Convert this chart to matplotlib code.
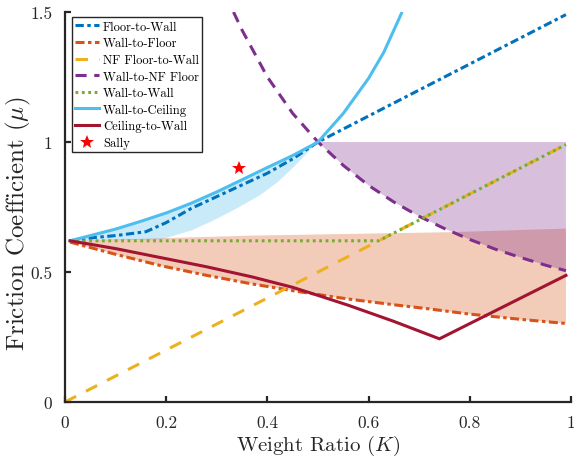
import matplotlib
matplotlib.use('Agg')
import matplotlib.pyplot as plt
import numpy as np

# values (K = weight ratio, mu = friction coefficient)
k_f2w = [0.01, 0.06, 0.10, 0.16, 0.20, 0.25, 0.30, 0.35, 0.40, 0.45, 0.50, 0.75, 0.99]
mu_f2w = [0.62, 0.633, 0.64, 0.655, 0.69, 0.745, 0.79, 0.835, 0.88, 0.935, 1.00, 1.25, 1.49]

k_w2f = [0.01, 0.10, 0.19, 0.28, 0.37, 0.46, 0.56, 0.65, 0.72, 0.80, 0.90, 0.99]
mu_w2f = [0.615, 0.568, 0.524, 0.487, 0.454, 0.425, 0.396, 0.374, 0.358, 0.338, 0.318, 0.302]

k_nf2w = [0.0, 0.99]
mu_nf2w = [0.0, 0.99]

k_w2nf = [0.333, 0.35, 0.40, 0.45, 0.50, 0.55, 0.60, 0.65, 0.70, 0.75, 0.80, 0.85, 0.90, 0.95, 0.99]
mu_w2nf = [1.50, 1.43, 1.25, 1.11, 1.00, 0.91, 0.833, 0.769, 0.714, 0.667, 0.625, 0.588, 0.556, 0.526, 0.505]

k_w2w = [0.01, 0.62, 0.99]
mu_w2w = [0.62, 0.62, 0.99]

k_w2c = [0.01, 0.05, 0.10, 0.15, 0.20, 0.25, 0.30, 0.35, 0.40, 0.45, 0.50, 0.55, 0.60, 0.63, 0.665]
mu_w2c = [0.62, 0.64, 0.665, 0.695, 0.727, 0.765, 0.808, 0.855, 0.902, 0.948, 1.00, 1.11, 1.245, 1.345, 1.495]

k_c2w = [0.01, 0.10, 0.19, 0.28, 0.37, 0.45, 0.50, 0.56, 0.65, 0.74, 0.87, 0.99]
mu_c2w = [0.62, 0.59, 0.555, 0.52, 0.481, 0.441, 0.41, 0.372, 0.31, 0.243, 0.37, 0.487]

sally_k = [0.344]
sally_mu = [0.90]

# shaded regions
k_blue_low = [0.01, 0.19, 0.25, 0.29, 0.34, 0.385, 0.42, 0.45, 0.50]
mu_blue_low = [0.62, 0.625, 0.66, 0.695, 0.745, 0.795, 0.845, 0.90, 1.00]
k_orange_top = [0.01, 0.37, 0.76, 0.99]
mu_orange_top = [0.62, 0.64, 0.653, 0.667]
purple_top = 1.0

c_blue = '#0072BD'
c_orange = '#D95319'
c_yellow = '#EDB120'
c_purple = '#7E2F8E'
c_green = '#77AC30'
c_cyan = '#4DBEEE'
c_red = '#A2142F'
c_axis = '#262626'

plt.rcParams['font.family'] = 'cmr10'
plt.rcParams['mathtext.fontset'] = 'cm'
plt.rcParams['axes.formatter.use_mathtext'] = True
plt.rcParams['lines.scale_dashes'] = False

fig = plt.figure(figsize=(5.74, 4.64), dpi=100)
ax = fig.add_axes([65/574, 1-403/464, 506/574, 390/464])

# fills
kc = np.array(k_w2c); mc = np.array(mu_w2c)
sel = kc <= 0.5
ax.fill(np.concatenate([kc[sel], k_blue_low[::-1]]),
        np.concatenate([mc[sel], mu_blue_low[::-1]]),
        color=c_cyan, alpha=0.3, lw=0)
ax.fill(np.concatenate([k_orange_top, k_w2f[::-1]]),
        np.concatenate([mu_orange_top, mu_w2f[::-1]]),
        color=c_orange, alpha=0.3, lw=0)
kp = np.array(k_w2nf); mp = np.array(mu_w2nf)
sel = kp >= 0.5
ax.fill(np.concatenate([kp[sel], [kp[-1], 0.5]]),
        np.concatenate([mp[sel], [purple_top, purple_top]]),
        color=c_purple, alpha=0.3, lw=0)

lw = 2.2
ax.plot(k_f2w, mu_f2w, color=c_blue, lw=lw, dashes=(6, 2.5, 2.5, 2.5), label='Floor-to-Wall')
ax.plot(k_w2f, mu_w2f, color=c_orange, lw=lw, dashes=(6.5, 2.5, 2.5, 2.5), label='Wall-to-Floor')
ax.plot(k_nf2w, mu_nf2w, color=c_yellow, lw=lw, dashes=(9, 8), label='NF Floor-to-Wall')
ax.plot(k_w2nf, mu_w2nf, color=c_purple, lw=lw, dashes=(8, 5.5), label='Wall-to-NF Floor')
ax.plot(k_w2w, mu_w2w, color=c_green, lw=lw, dashes=(2, 2.6), label='Wall-to-Wall')
ax.plot(k_w2c, mu_w2c, color=c_cyan, lw=lw, label='Wall-to-Ceiling')
ax.plot(k_c2w, mu_c2w, color=c_red, lw=lw, label='Ceiling-to-Wall')
ax.plot(sally_k, sally_mu, ls='none', marker='*', color='red', ms=10, mew=0, label='Sally')

ax.set_xlim(0, 1)
ax.set_ylim(0, 1.5)
ax.set_xticks([0, 0.2, 0.4, 0.6, 0.8, 1])
ax.set_xticklabels(['0', '0.2', '0.4', '0.6', '0.8', '1'])
ax.set_yticks([0, 0.5, 1, 1.5])
ax.set_yticklabels(['0', '0.5', '1', '1.5'])
for s in ['top', 'right']:
    ax.spines[s].set_visible(False)
for s in ['left', 'bottom']:
    ax.spines[s].set_linewidth(1.6)
    ax.spines[s].set_color(c_axis)
ax.tick_params(direction='in', length=4, width=1.6, color=c_axis,
               labelcolor=c_axis, labelsize=12.5, pad=9)

ax.set_xlabel(r'Weight Ratio ($K$)', fontsize=15, color=c_axis, labelpad=2)
ax.set_ylabel(r'Friction Coefficient ($\mu$)', fontsize=18, color=c_axis)
ax.yaxis.set_label_coords(-0.064, 0.46)

leg = ax.legend(loc='upper left', bbox_to_anchor=(0.013, 0.986), borderaxespad=0,
                fontsize=9.0, fancybox=False, framealpha=1, edgecolor=c_axis,
                labelspacing=0.36, handlelength=1.95, handletextpad=0.3,
                borderpad=0.25)
leg.get_frame().set_linewidth(1.0)

fig.savefig('out.png', dpi=100)
